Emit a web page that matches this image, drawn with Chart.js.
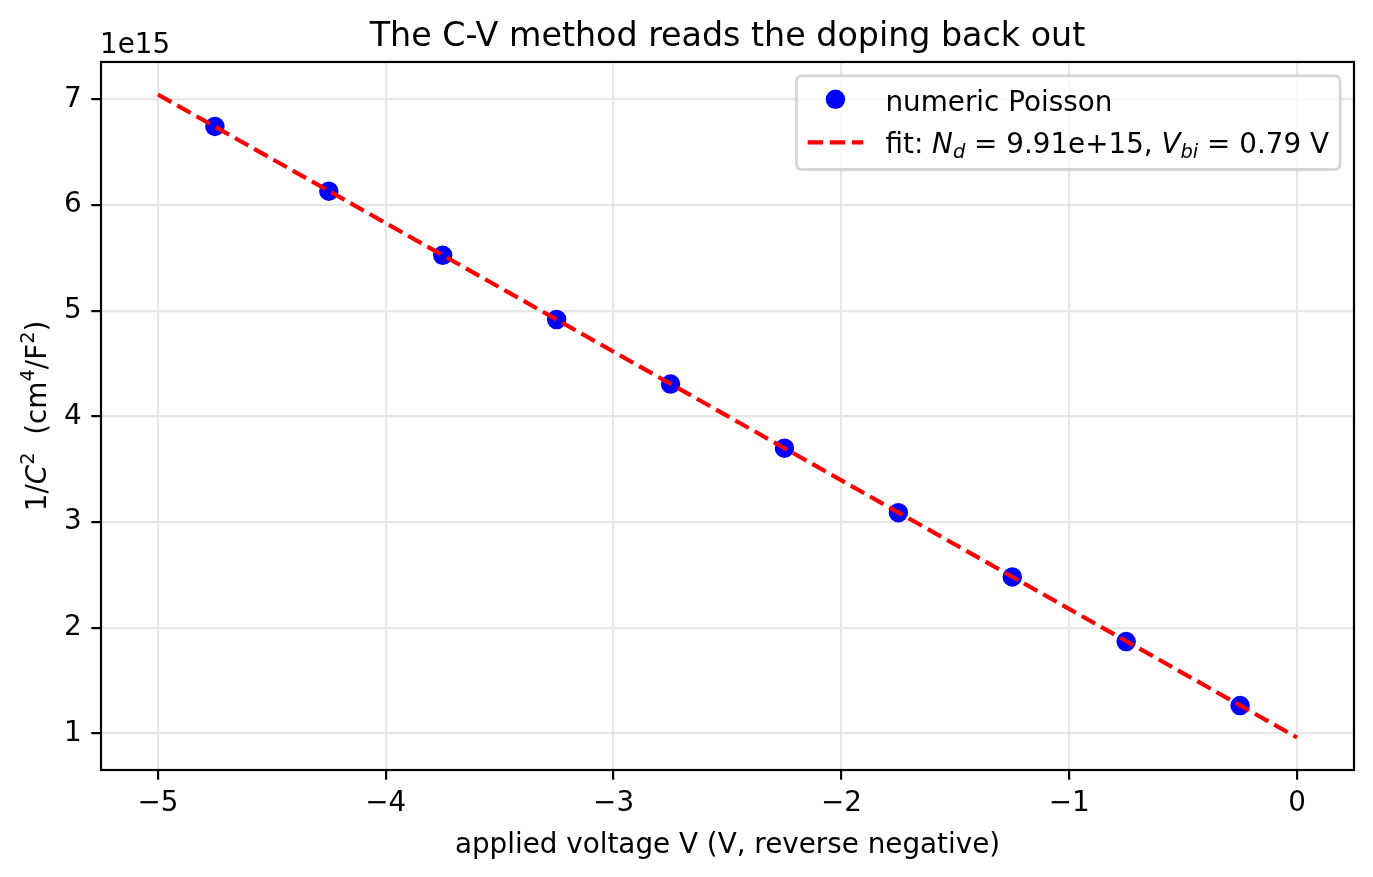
<!DOCTYPE html>
<html><head><meta charset="utf-8">
<script src="https://cdn.jsdelivr.net/npm/chart.js@4/dist/chart.umd.min.js"></script>
<style>html,body{margin:0;padding:0;background:#fff}canvas{display:block}</style>
</head><body>
<canvas id="c" width="1373" height="877"></canvas>
<script>
// ---- data (1/C^2 in units of 1e15 cm^4/F^2) ----
const voltages = [-4.75, -4.25, -3.75, -3.25, -2.75, -2.25, -1.75, -1.25, -0.75, -0.25];
const invC2 = [6.745, 6.132, 5.525, 4.918, 4.307, 3.700, 3.090, 2.482, 1.870, 1.265];
const fitVoltages = [-5, 0];
const fitInvC2 = [7.047, 0.962];
const xTicks = [-5, -4, -3, -2, -1, 0];
const yTicks = [1, 2, 3, 4, 5, 6, 7];
const yOffsetLabel = '1e15';
const titleText = 'The C-V method reads the doping back out';
const xLabel = 'applied voltage V (V, reverse negative)';
const seriesLabel = 'numeric Poisson';
const fitNd = '9.91e+15';
const fitVbi = '0.79';

const F = '"DejaVu Sans", sans-serif';
const FS = 27.8;

function fmt(v) { return String(v).replace('-', '\u2212'); }
function segFont(s, base) {
  const sz = (s.sub || s.sup) ? base * 0.7 : base;
  return (s.it ? 'italic ' : '') + sz + 'px ' + F;
}
function richWidth(ctx, segs, base) {
  let w = 0;
  for (const s of segs) { ctx.font = segFont(s, base); w += ctx.measureText(s.t).width; }
  return w;
}
function drawRich(ctx, segs, x, y, base) {
  let cx = x;
  for (const s of segs) {
    ctx.font = segFont(s, base);
    const dy = s.sub ? base * 0.2 : (s.sup ? -base * 0.42 : 0);
    ctx.fillText(s.t, cx, y + dy);
    cx += ctx.measureText(s.t).width;
  }
  return cx;
}

const yLabelSegs = [
  {t: '1/'}, {t: 'C', it: 1}, {t: '2', sup: 1}, {t: '  (cm'}, {t: '4', sup: 1},
  {t: '/F'}, {t: '2', sup: 1}, {t: ')'}
];
const fitSegs = [
  {t: 'fit: '}, {t: 'N', it: 1}, {t: 'd', it: 1, sub: 1}, {t: ' = ' + fitNd + ', '},
  {t: 'V', it: 1}, {t: 'bi', it: 1, sub: 1}, {t: ' = ' + fitVbi + ' V'}
];

const overlay = {
  id: 'overlay',
  afterDraw(chart) {
    const ctx = chart.ctx;
    const a = chart.chartArea;
    ctx.save();
    // spines
    ctx.strokeStyle = '#000';
    ctx.lineWidth = 2.2;
    ctx.strokeRect(a.left, a.top, a.right - a.left, a.bottom - a.top);
    // offset text
    ctx.fillStyle = '#000';
    ctx.textBaseline = 'alphabetic';
    ctx.textAlign = 'left';
    ctx.font = FS + 'px ' + F;
    ctx.fillText(yOffsetLabel, a.left - 1, 53);
    // y label (rotated)
    const yw = richWidth(ctx, yLabelSegs, FS);
    ctx.save();
    ctx.translate(46, (a.top + a.bottom) / 2);
    ctx.rotate(-Math.PI / 2);
    drawRich(ctx, yLabelSegs, -yw / 2, 0, FS);
    ctx.restore();
    // legend
    ctx.font = FS + 'px ' + F;
    const w1 = ctx.measureText(seriesLabel).width;
    const w2 = richWidth(ctx, fitSegs, FS);
    const tw = Math.max(w1, w2);
    const pad = 0.4 * FS, handleLen = 2.0 * FS, textPad = 0.8 * FS;
    const right = a.right - 0.5 * FS;
    const top = a.top + 0.5 * FS;
    const left = right - (pad + handleLen + textPad + tw + pad);
    const bottom = 169.5;
    const r = 5.6;
    ctx.beginPath();
    ctx.moveTo(left + r, top);
    ctx.lineTo(right - r, top); ctx.quadraticCurveTo(right, top, right, top + r);
    ctx.lineTo(right, bottom - r); ctx.quadraticCurveTo(right, bottom, right - r, bottom);
    ctx.lineTo(left + r, bottom); ctx.quadraticCurveTo(left, bottom, left, bottom - r);
    ctx.lineTo(left, top + r); ctx.quadraticCurveTo(left, top, left + r, top);
    ctx.closePath();
    ctx.fillStyle = 'rgba(255,255,255,0.8)';
    ctx.fill();
    ctx.strokeStyle = 'rgba(204,204,204,0.8)';
    ctx.lineWidth = 2.78;
    ctx.stroke();
    const hx = left + pad;
    const tx = hx + handleLen + textPad;
    // row 1: marker
    ctx.fillStyle = '#0000ff';
    ctx.beginPath();
    ctx.arc(hx + handleLen / 2, 99.3, 9.7, 0, Math.PI * 2);
    ctx.fill();
    ctx.fillStyle = '#000';
    ctx.font = FS + 'px ' + F;
    ctx.fillText(seriesLabel, tx, 110.5);
    // row 2: dashed line
    ctx.strokeStyle = '#ff0000';
    ctx.lineWidth = 4.17;
    ctx.setLineDash([15.4, 6.7]);
    ctx.beginPath();
    ctx.moveTo(hx, 142.3); ctx.lineTo(hx + handleLen, 142.3);
    ctx.stroke();
    ctx.setLineDash([]);
    ctx.fillStyle = '#000';
    drawRich(ctx, fitSegs, tx, 152.5, FS);
    ctx.restore();
  }
};

const pts = voltages.map((v, i) => ({x: v, y: invC2[i]}));
const fitPts = fitVoltages.map((v, i) => ({x: v, y: fitInvC2[i]}));

const tickFont = {family: F, size: FS, lineHeight: 1.2};
const gridOpts = {color: '#e7e7e7', lineWidth: 2.2, tickColor: '#000', tickWidth: 2.2, tickLength: 9.7, drawTicks: true};

new Chart(document.getElementById('c').getContext('2d'), {
  type: 'scatter',
  data: {
    datasets: [
      {label: 'fit', data: fitPts, showLine: true, borderColor: '#ff0000', backgroundColor: '#ff0000',
       borderWidth: 4.17, borderDash: [15.4, 6.7], pointRadius: 0, pointHoverRadius: 0, fill: false, tension: 0},
      {label: seriesLabel, data: pts, showLine: false, backgroundColor: '#0000ff', borderColor: '#0000ff',
       pointRadius: 8.34, pointBorderWidth: 2.78, pointHoverRadius: 8.34}
    ]
  },
  options: {
    responsive: false, animation: false, devicePixelRatio: 1,
    events: [],
    layout: {padding: {left: 0, right: 19, top: 0, bottom: 0}},
    plugins: {
      legend: {display: false},
      tooltip: {enabled: false},
      title: {display: true, text: titleText, fullSize: false, color: '#000',
              font: {family: F, size: 33.3, weight: 'normal', lineHeight: 1.2},
              padding: {top: 17.8, bottom: 4.2}}
    },
    scales: {
      x: {
        type: 'linear', min: -5.25, max: 0.25,
        afterBuildTicks: s => { s.ticks = xTicks.map(v => ({value: v})); },
        afterFit: s => { s.height = 107; },
        ticks: {color: '#000', font: tickFont, padding: 7, maxRotation: 0, autoSkip: false, callback: v => fmt(v)},
        grid: gridOpts,
        border: {display: false},
        title: {display: true, text: xLabel, color: '#000', font: tickFont, padding: {top: 0, bottom: 14.3}}
      },
      y: {
        type: 'linear', min: 0.655, max: 7.355,
        afterBuildTicks: s => { s.ticks = yTicks.map(v => ({value: v})); },
        afterFit: s => { s.width = 101; },
        ticks: {color: '#000', font: tickFont, padding: 9.7, autoSkip: false, callback: v => fmt(v)},
        grid: gridOpts,
        border: {display: false},
        title: {display: false}
      }
    }
  },
  plugins: [overlay]
});
</script>
</body></html>
